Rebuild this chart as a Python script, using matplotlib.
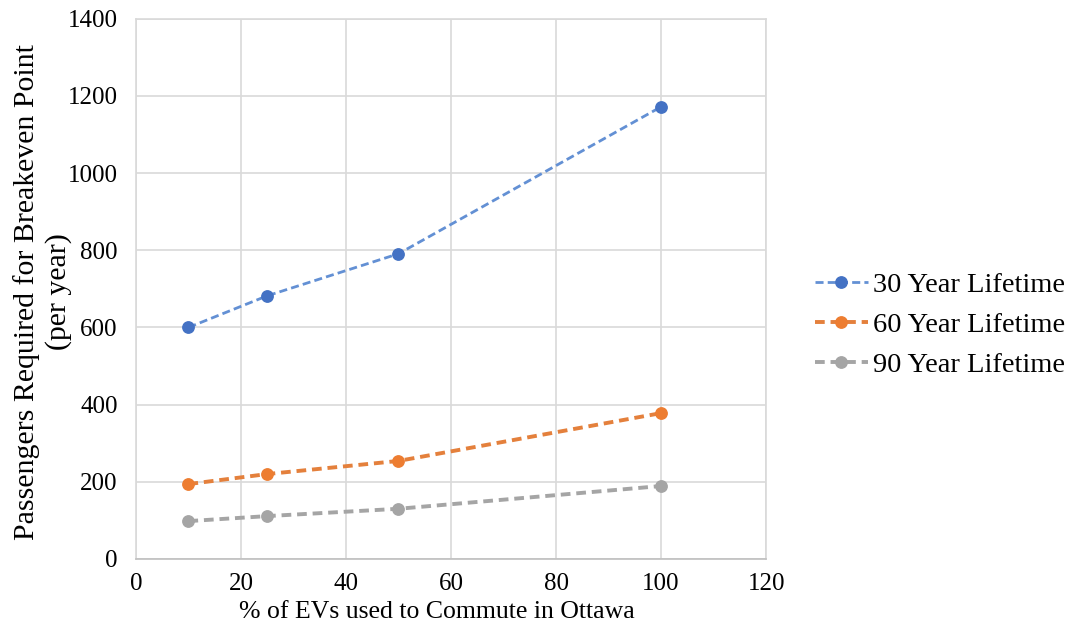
import matplotlib.pyplot as plt

plt.rcParams['font.family'] = ['Liberation Serif', 'DejaVu Serif']

# Share of EVs used to commute (%)
ev_share = [10, 25, 50, 100]

# Passengers per year needed to break even, by lifetime
lifetime_30 = [600, 682, 791, 1172]
lifetime_60 = [194, 220, 254, 378]
lifetime_90 = [98, 111, 130, 189]

series_labels = ['30 Year Lifetime', '60 Year Lifetime', '90 Year Lifetime']

fig = plt.figure(figsize=(10.7, 6.28), dpi=100)
ax = fig.add_axes([0.127, 0.110, 0.589, 0.860])

ax.plot(ev_share, lifetime_30, linestyle='--', color='#6390d4', linewidth=2.0,
        marker='o', markersize=8.2, markerfacecolor='#4472c4',
        markeredgecolor='#4472c4', label=series_labels[0], dashes=(2.9, 1.5))
ax.plot(ev_share, lifetime_60, linestyle='--', color='#e4803c', linewidth=2.8,
        marker='o', markersize=8.2, markerfacecolor='#ed7d31',
        markeredgecolor='#ed7d31', label=series_labels[1], dashes=(2.5, 1.5))
ax.plot(ev_share, lifetime_90, linestyle='--', color='#a5a5a5', linewidth=2.8,
        marker='o', markersize=8.2, markerfacecolor='#a5a5a5',
        markeredgecolor='#a5a5a5', label=series_labels[2], dashes=(2.5, 1.5))

ax.set_xlim(0, 120)
ax.set_ylim(0, 1400)
ax.set_xticks(range(0, 121, 20))
ax.set_yticks(range(0, 1401, 200))
ax.grid(True, color='#d9d9d9', linewidth=1.2)
ax.set_axisbelow(True)
for side in ax.spines.values():
    side.set_color('#d9d9d9')
    side.set_linewidth(1.2)
ax.spines['bottom'].set_color('#bfbfbf')
ax.tick_params(axis='y', length=0, labelsize=18, pad=13)
ax.tick_params(axis='x', length=0, labelsize=18, pad=10)

ax.set_xlabel('% of EVs used to Commute in Ottawa', fontsize=18.5)
ax.xaxis.set_label_coords(0.478, -0.078)
ax.set_ylabel('Passengers Required for Breakeven Point\n(per year)',
              fontsize=21.5, linespacing=1.22)
ax.yaxis.set_label_coords(-0.102, 0.495)

ax.legend(loc='center left', bbox_to_anchor=(815 / 1070, 1 - 325 / 628),
          bbox_transform=fig.transFigure, frameon=False, borderpad=0,
          borderaxespad=0, fontsize=20.5, handlelength=1.86,
          handletextpad=0.18, labelspacing=0.5)

fig.savefig('out.png', dpi=100)
